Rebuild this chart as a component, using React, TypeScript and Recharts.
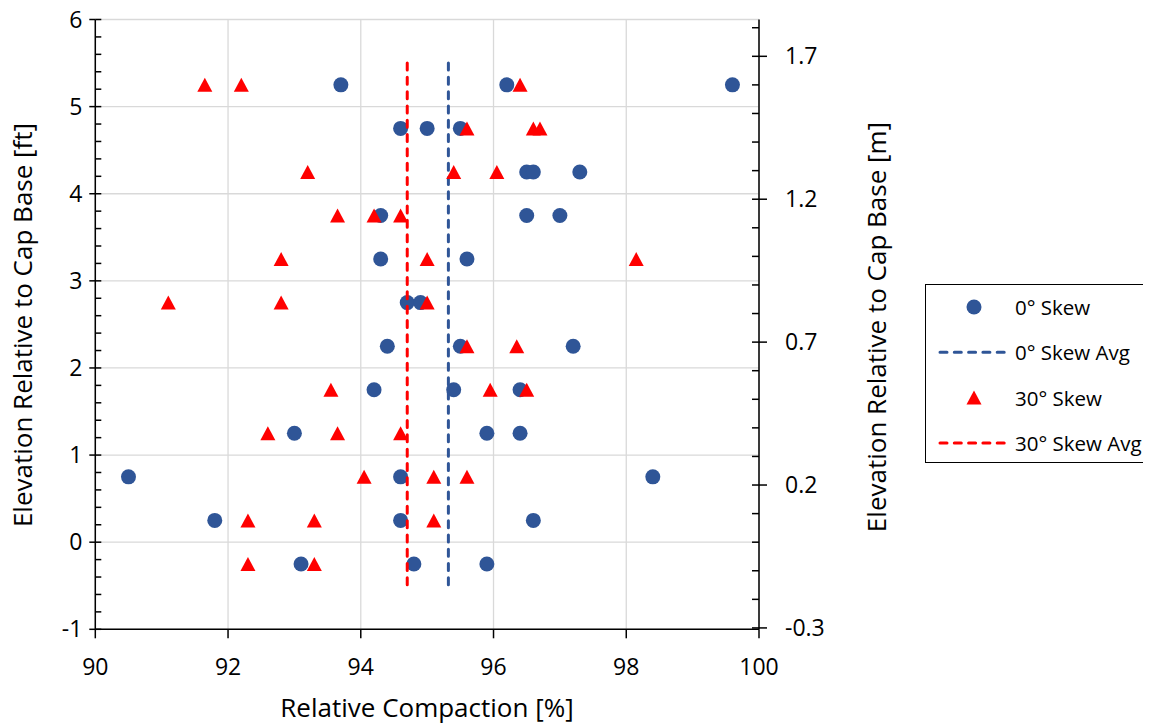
import { ScatterChart, Scatter, XAxis, YAxis, CartesianGrid } from 'recharts'

// 0° skew – relative compaction [%] and elevation [ft]
const skew0Compaction = [
  93.7, 96.2, 99.6,
  94.6, 95.0, 95.5,
  96.5, 96.6, 97.3,
  94.3, 96.5, 97.0,
  94.3, 95.6,
  94.7, 94.9,
  94.4, 95.5, 97.2,
  94.2, 95.4, 96.4,
  93.0, 95.9, 96.4,
  90.5, 94.6, 98.4,
  91.8, 94.6, 96.6,
  93.1, 94.8, 95.9,
]
const skew0Elevation = [
  5.25, 5.25, 5.25,
  4.75, 4.75, 4.75,
  4.25, 4.25, 4.25,
  3.75, 3.75, 3.75,
  3.25, 3.25,
  2.75, 2.75,
  2.25, 2.25, 2.25,
  1.75, 1.75, 1.75,
  1.25, 1.25, 1.25,
  0.75, 0.75, 0.75,
  0.25, 0.25, 0.25,
  -0.25, -0.25, -0.25,
]

// 30° skew
const skew30Compaction = [
  91.65, 92.2, 96.4,
  95.6, 96.6, 96.7,
  93.2, 95.4, 96.05,
  93.65, 94.2, 94.6,
  92.8, 95.0, 98.15,
  91.1, 92.8, 95.0,
  95.6, 96.35,
  93.55, 95.95, 96.5,
  92.6, 93.65, 94.6,
  94.05, 95.1, 95.6,
  92.3, 93.3, 95.1,
  92.3, 93.3,
]
const skew30Elevation = [
  5.25, 5.25, 5.25,
  4.75, 4.75, 4.75,
  4.25, 4.25, 4.25,
  3.75, 3.75, 3.75,
  3.25, 3.25, 3.25,
  2.75, 2.75, 2.75,
  2.25, 2.25,
  1.75, 1.75, 1.75,
  1.25, 1.25, 1.25,
  0.75, 0.75, 0.75,
  0.25, 0.25, 0.25,
  -0.25, -0.25,
]

// averages, drawn as vertical dashed lines
const skew0Avg = 95.32
const skew30Avg = 94.7
const avgSpan = [5.5, -0.5]

const xTicks = [90, 92, 94, 96, 98, 100]
const ftTicks = [-1, 0, 1, 2, 3, 4, 5, 6]
const mTicks = [-0.3, 0.2, 0.7, 1.2, 1.7]

const range = (a: number, b: number, step: number) => {
  const out: number[] = []
  for (let v = a; v <= b + 1e-9; v += step) out.push(Math.round(v * 1000) / 1000)
  return out
}
const xMinor = range(90, 100, 0.4)
const ftMinor = range(-1, 6, 0.2)
const mMinor = range(-0.3, 1.8, 0.1)

const BLUE = '#2F5597'
const RED = '#FF0000'
const FONT = '"Open Sans", sans-serif'

const pts = (xs: number[], ys: number[]) => xs.map((x, i) => ({ x, y: ys[i] }))
const skew0 = pts(skew0Compaction, skew0Elevation)
const skew30 = pts(skew30Compaction, skew30Elevation)
const skew0Line = avgSpan.map(y => ({ x: skew0Avg, y }))
const skew30Line = avgSpan.map(y => ({ x: skew30Avg, y }))

const Dot = (p: any) => <circle cx={p.cx} cy={p.cy} r={7.5} fill={BLUE} />
const Tri = (p: any) => (
  <polygon
    points={`${p.cx},${p.cy - 7} ${p.cx - 7.5},${p.cy + 7} ${p.cx + 7.5},${p.cy + 7}`}
    fill={RED}
  />
)
const None = () => <g />
const blank = () => ''

const tickStyle = { fontSize: 23, fill: '#000', fontFamily: FONT }
const axisLine = { stroke: '#000', strokeWidth: 1.5 }
const tickLine = { stroke: '#000', strokeWidth: 1.5 }

function Legend() {
  const rows = [
    { label: '0° Skew', kind: 'dot' },
    { label: '0° Skew Avg', kind: 'line', color: BLUE },
    { label: '30° Skew', kind: 'tri' },
    { label: '30° Skew Avg', kind: 'line', color: RED },
  ]
  return (
    <svg
      width={221} height={179}
      style={{ position: 'absolute', left: 925, top: 284, border: '1.5px solid #000', boxSizing: 'border-box' }}
    >
      {rows.map((r, i) => {
        const y = 22 + i * 45.3
        return (
          <g key={r.label}>
            {r.kind === 'dot' && <circle cx={48} cy={y} r={7.5} fill={BLUE} />}
            {r.kind === 'tri' && (
              <polygon points={`48,${y - 7} 40.5,${y + 7} 55.5,${y + 7}`} fill={RED} />
            )}
            {r.kind === 'line' && (
              <line x1={14} x2={82} y1={y} y2={y} stroke={r.color} strokeWidth={3}
                strokeDasharray="7 7.3" strokeLinecap="round" />
            )}
            <text x={89} y={y} dominantBaseline="central" fontSize={20.5} fontFamily={FONT} fill="#000">
              {r.label}
            </text>
          </g>
        )
      })}
    </svg>
  )
}

export default function App() {
  const title = { position: 'absolute' as const, fontSize: 26, fontFamily: FONT, color: '#000', whiteSpace: 'nowrap' as const }
  return (
    <div style={{ position: 'relative', left: -8, top: -8, width: 1151, height: 728 }}>
      <ScatterChart
        width={1151} height={728}
        margin={{ top: 19.5, right: 332, bottom: 58.7, left: 35.3 }}
      >
        <CartesianGrid xAxisId="x" yAxisId="ft" stroke="#D9D9D9" strokeWidth={1.3} />
        <XAxis
          xAxisId="x" type="number" dataKey="x" domain={[90, 100]} ticks={xTicks} interval={0}
          allowDataOverflow height={40} tickSize={9} tickMargin={20}
          tick={tickStyle} axisLine={axisLine} tickLine={tickLine}
        />
        <XAxis
          xAxisId="xMinor" type="number" domain={[90, 100]} ticks={xMinor} interval={0}
          allowDataOverflow mirror height={10} tickSize={6} tickFormatter={blank}
          axisLine={false} tickLine={tickLine}
        />
        <YAxis
          yAxisId="ft" type="number" dataKey="y" domain={[-1, 6]} ticks={ftTicks} interval={0}
          allowDataOverflow width={60} tickSize={6} tickMargin={7}
          tick={tickStyle} axisLine={axisLine} tickLine={tickLine}
        />
        <YAxis
          yAxisId="ftMinor" type="number" domain={[-1, 6]} ticks={ftMinor} interval={0}
          allowDataOverflow mirror width={10} tickSize={6} tickFormatter={blank}
          axisLine={false} tickLine={tickLine}
        />
        <YAxis
          yAxisId="m" orientation="right" type="number" domain={[-0.3048, 1.8288]} ticks={mTicks}
          interval={0} allowDataOverflow width={60} tickSize={8} tickMargin={18}
          tick={tickStyle} axisLine={axisLine} tickLine={tickLine}
        />
        <YAxis
          yAxisId="mMinor" orientation="right" type="number" domain={[-0.3048, 1.8288]} ticks={mMinor}
          interval={0} allowDataOverflow mirror width={10} tickSize={7} tickFormatter={blank}
          axisLine={false} tickLine={tickLine}
        />
        <Scatter name="0° Skew" data={skew0} xAxisId="x" yAxisId="ft" shape={Dot} isAnimationActive={false} />
        <Scatter
          name="0° Skew Avg" data={skew0Line} xAxisId="x" yAxisId="ft" shape={None}
          line={{ stroke: BLUE, strokeWidth: 3, strokeDasharray: '7 7.3', strokeLinecap: 'round' }}
          isAnimationActive={false}
        />
        <Scatter name="30° Skew" data={skew30} xAxisId="x" yAxisId="ft" shape={Tri} isAnimationActive={false} />
        <Scatter
          name="30° Skew Avg" data={skew30Line} xAxisId="x" yAxisId="ft" shape={None}
          line={{ stroke: RED, strokeWidth: 3, strokeDasharray: '7 7.3', strokeLinecap: 'round' }}
          isAnimationActive={false}
        />
      </ScatterChart>

      <div style={{ ...title, left: 427, top: 707, transform: 'translate(-50%, -50%)' }}>
        Relative Compaction [%]
      </div>
      <div style={{ ...title, left: 22, top: 325, transform: 'translate(-50%, -50%) rotate(-90deg)' }}>
        Elevation Relative to Cap Base [ft]
      </div>
      <div style={{ ...title, left: 876, top: 327, transform: 'translate(-50%, -50%) rotate(-90deg)' }}>
        Elevation Relative to Cap Base [m]
      </div>
      <Legend />
    </div>
  )
}
